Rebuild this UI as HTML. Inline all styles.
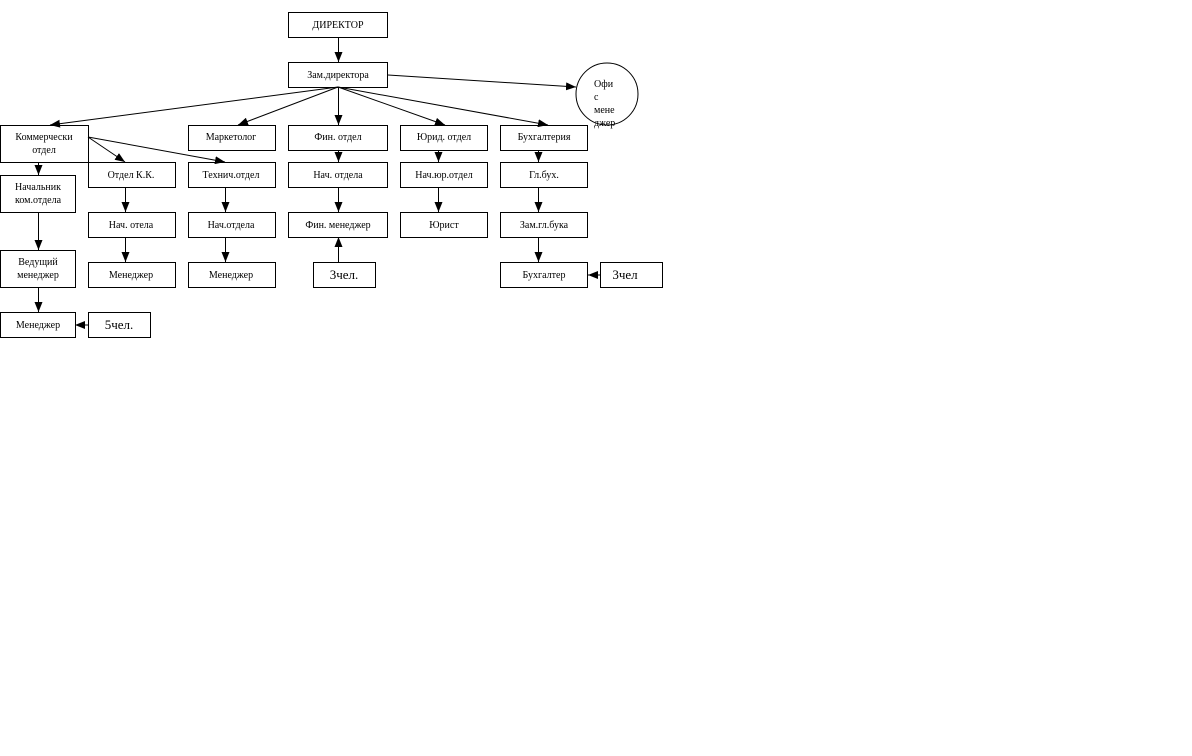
<!DOCTYPE html>
<html><head><meta charset="utf-8"><style>
html,body{margin:0;padding:0;background:#fff;}
svg text{font-family:"Liberation Serif",serif;font-size:10px;fill:#000;}
</style></head><body>
<svg width="1192" height="751" xmlns="http://www.w3.org/2000/svg">
<defs><marker id="a" markerWidth="10" markerHeight="8" refX="10" refY="4" orient="auto" markerUnits="userSpaceOnUse"><path d="M0,0 L10,4 L0,8 z" fill="#000"/></marker></defs>
<g fill="#fff" stroke="#000" stroke-width="1">
<rect x="288.5" y="12.5" width="99" height="25"/>
<rect x="288.5" y="62.5" width="99" height="25"/>
<circle cx="607" cy="94" r="31"/>
<rect x="0.5" y="125.5" width="88" height="37"/>
<rect x="188.5" y="125.5" width="87" height="25"/>
<rect x="288.5" y="125.5" width="99" height="25"/>
<rect x="400.5" y="125.5" width="87" height="25"/>
<rect x="500.5" y="125.5" width="87" height="25"/>
<rect x="88.5" y="162.5" width="87" height="25"/>
<rect x="188.5" y="162.5" width="87" height="25"/>
<rect x="288.5" y="162.5" width="99" height="25"/>
<rect x="400.5" y="162.5" width="87" height="25"/>
<rect x="500.5" y="162.5" width="87" height="25"/>
<rect x="0.5" y="175.5" width="75" height="37"/>
<rect x="88.5" y="212.5" width="87" height="25"/>
<rect x="188.5" y="212.5" width="87" height="25"/>
<rect x="288.5" y="212.5" width="99" height="25"/>
<rect x="400.5" y="212.5" width="87" height="25"/>
<rect x="500.5" y="212.5" width="87" height="25"/>
<rect x="0.5" y="250.5" width="75" height="37"/>
<rect x="88.5" y="262.5" width="87" height="25"/>
<rect x="188.5" y="262.5" width="87" height="25"/>
<rect x="313.5" y="262.5" width="62" height="25"/>
<rect x="500.5" y="262.5" width="87" height="25"/>
<rect x="600.5" y="262.5" width="62" height="25"/>
<rect x="0.5" y="312.5" width="75" height="25"/>
<rect x="88.5" y="312.5" width="62" height="25"/>
</g>
<g stroke="#000" stroke-width="1" marker-end="url(#a)" fill="none">
<line x1="338.5" y1="37" x2="338.5" y2="62"/>
<line x1="388" y1="75" x2="576" y2="87"/>
<line x1="338" y1="87" x2="50" y2="125"/>
<line x1="338" y1="87" x2="238" y2="125"/>
<line x1="338.5" y1="87" x2="338.5" y2="125"/>
<line x1="338" y1="87" x2="445" y2="125"/>
<line x1="338" y1="87" x2="548" y2="125"/>
<line x1="88" y1="137" x2="125" y2="162"/>
<line x1="88" y1="137" x2="225" y2="162"/>
<line x1="38.5" y1="162" x2="38.5" y2="175"/>
<line x1="38.5" y1="212" x2="38.5" y2="250"/>
<line x1="38.5" y1="287" x2="38.5" y2="312"/>
<line x1="88" y1="325" x2="75" y2="325"/>
<line x1="125.5" y1="187" x2="125.5" y2="212"/>
<line x1="125.5" y1="237" x2="125.5" y2="262"/>
<line x1="225.5" y1="187" x2="225.5" y2="212"/>
<line x1="225.5" y1="237" x2="225.5" y2="262"/>
<line x1="338.5" y1="150" x2="338.5" y2="162"/>
<line x1="338.5" y1="187" x2="338.5" y2="212"/>
<line x1="338.5" y1="262" x2="338.5" y2="237"/>
<line x1="438.5" y1="150" x2="438.5" y2="162"/>
<line x1="438.5" y1="187" x2="438.5" y2="212"/>
<line x1="538.5" y1="150" x2="538.5" y2="162"/>
<line x1="538.5" y1="187" x2="538.5" y2="212"/>
<line x1="538.5" y1="237" x2="538.5" y2="262"/>
<line x1="600" y1="275" x2="588" y2="275"/>
</g>
<g text-anchor="middle">
<text x="338" y="28">ДИРЕКТОР</text>
<text x="338" y="78">Зам.директора</text>
<text x="44" y="140">Коммерчески</text>
<text x="44" y="153">отдел</text>
<text x="231" y="140">Маркетолог</text>
<text x="338" y="140">Фин. отдел</text>
<text x="444" y="140">Юрид. отдел</text>
<text x="544" y="140">Бухгалтерия</text>
<text x="131" y="178">Отдел К.К.</text>
<text x="231" y="178">Технич.отдел</text>
<text x="338" y="178">Нач. отдела</text>
<text x="444" y="178">Нач.юр.отдел</text>
<text x="544" y="178">Гл.бух.</text>
<text x="38" y="190">Начальник</text>
<text x="38" y="203">ком.отдела</text>
<text x="131" y="228">Нач. отела</text>
<text x="231" y="228">Нач.отдела</text>
<text x="338" y="228">Фин. менеджер</text>
<text x="444" y="228">Юрист</text>
<text x="544" y="228">Зам.гл.бука</text>
<text x="38" y="265">Ведущий</text>
<text x="38" y="278">менеджер</text>
<text x="131" y="278">Менеджер</text>
<text x="231" y="278">Менеджер</text>
<text x="344" y="279" style="font-size:13px">3чел.</text>
<text x="544" y="278">Бухгалтер</text>
<text x="625" y="279" style="font-size:13px">3чел</text>
<text x="38" y="328">Менеджер</text>
<text x="119" y="329" style="font-size:13px">5чел.</text>
</g>
<g>
<text x="594" y="87">Офи</text>
<text x="594" y="100">с</text>
<text x="594" y="113">мене</text>
<text x="594" y="126">джер</text>
</g>
</svg>
</body></html>
